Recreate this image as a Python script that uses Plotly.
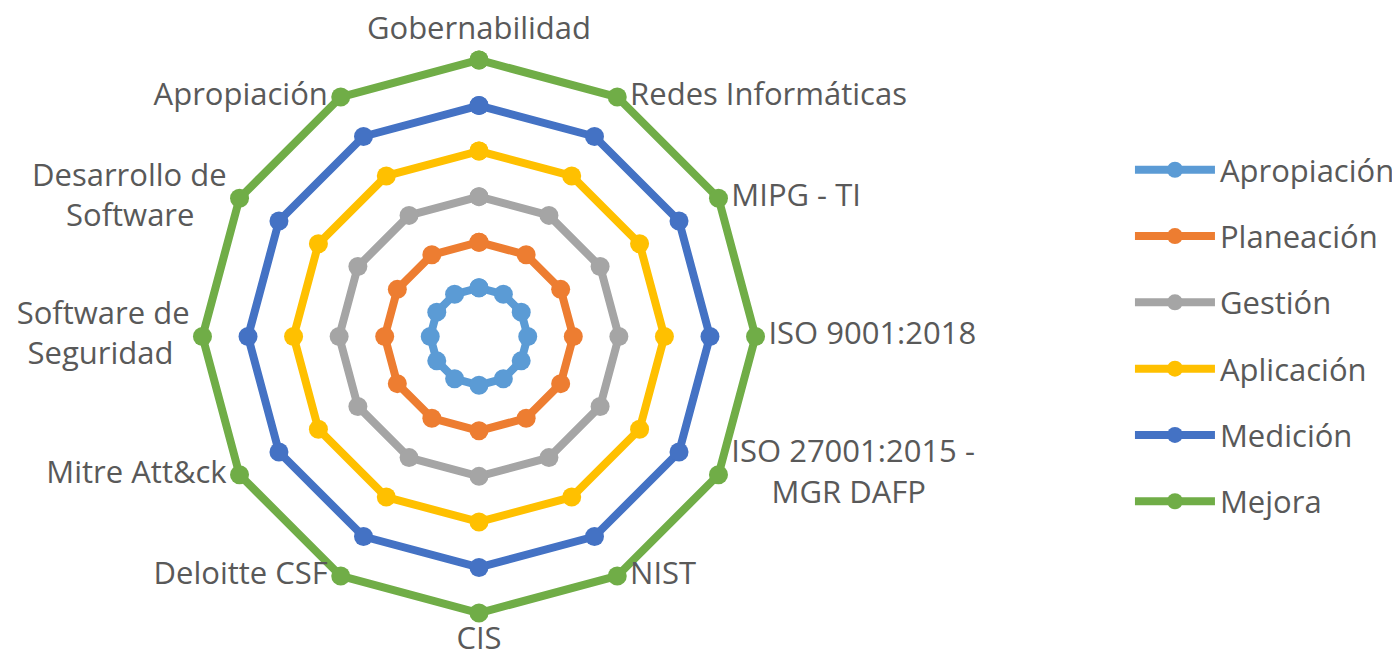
import plotly.graph_objects as go

NB = "\u00a0"
categories = ["Gobernabilidad", "Redes Informáticas", "MIPG - TI", "ISO 9001:2018",
              "ISO 27001:2015 - MGR DAFP", "NIST", "CIS", "Deloitte CSF",
              "Mitre Att&ck", "Software de Seguridad", "Desarrollo de Software",
              "Apropiación"]
# label texts as shown on the chart (wrapped like the original)
category_labels = ["Gobernabilidad", "Redes Informáticas", "MIPG - TI", "ISO 9001:2018",
                   "ISO 27001:2015 -<br>" + NB * 5 + "MGR DAFP", "NIST", "CIS", "Deloitte CSF",
                   "Mitre Att&amp;ck", "Software de<br>Seguridad" + NB * 2,
                   "Desarrollo de<br>Software" + NB * 4, "Apropiación"]
label_positions = ["top center", "middle right", "middle right", "middle right",
                   "middle right", "middle right", "bottom center", "middle left",
                   "middle left", "middle left", "middle left", "middle left"]

series_names = ["Apropiación", "Planeación", "Gestión", "Aplicación", "Medición", "Mejora"]
apropiacion = [1] * 12
planeacion = [2] * 12
gestion = [3] * 12
aplicacion = [4] * 12
medicion = [5] * 12
mejora = [6] * 12
series_values = [apropiacion, planeacion, gestion, aplicacion, medicion, mejora]
colors = ["#5B9BD5", "#ED7D31", "#A5A5A5", "#FFC000", "#4472C4", "#70AD47"]

FONT = "Open Sans"
TXT = "#595959"
FS = 31

fig = go.Figure()
for name, vals, col in zip(series_names, series_values, colors):
    fig.add_trace(go.Scatterpolar(
        r=vals + [vals[0]],
        theta=categories + [categories[0]],
        mode="lines+markers",
        name=name,
        legendgroup=name,
        cliponaxis=False,
        line=dict(color=col, width=8),
        marker=dict(color=col, size=19),
    ))

# category labels placed at the outer ring through the polar scale
outer = max(max(v) for v in series_values)
fig.add_trace(go.Scatterpolar(
    r=[outer] * len(categories),
    theta=categories,
    mode="markers+text",
    text=category_labels,
    textposition=label_positions,
    textfont=dict(family=FONT, size=FS, color=TXT),
    marker=dict(size=19, color="rgba(0,0,0,0)"),
    cliponaxis=False,
    showlegend=False,
    hoverinfo="skip",
))

fig.update_layout(
    width=1400, height=659,
    margin=dict(l=0, r=0, t=0, b=0),
    paper_bgcolor="white",
    plot_bgcolor="white",
    font=dict(family=FONT, size=FS, color=TXT),
    polar=dict(
        domain=dict(x=[0.12914, 0.54371], y=[0.06115, 0.94188]),
        bgcolor="white",
        gridshape="linear",
        radialaxis=dict(range=[-0.07, 6.3], visible=False, showgrid=False),
        angularaxis=dict(
            rotation=90, direction="clockwise",
            showgrid=False, showline=False, ticks="",
            showticklabels=False,
        ),
    ),
    legend=dict(
        x=0.8014, y=0.795, xanchor="left", yanchor="top",
        font=dict(family=FONT, size=FS, color=TXT),
        tracegroupgap=23,
        itemwidth=80,
        bgcolor="rgba(0,0,0,0)",
    ),
)

fig.write_html("out.html")
